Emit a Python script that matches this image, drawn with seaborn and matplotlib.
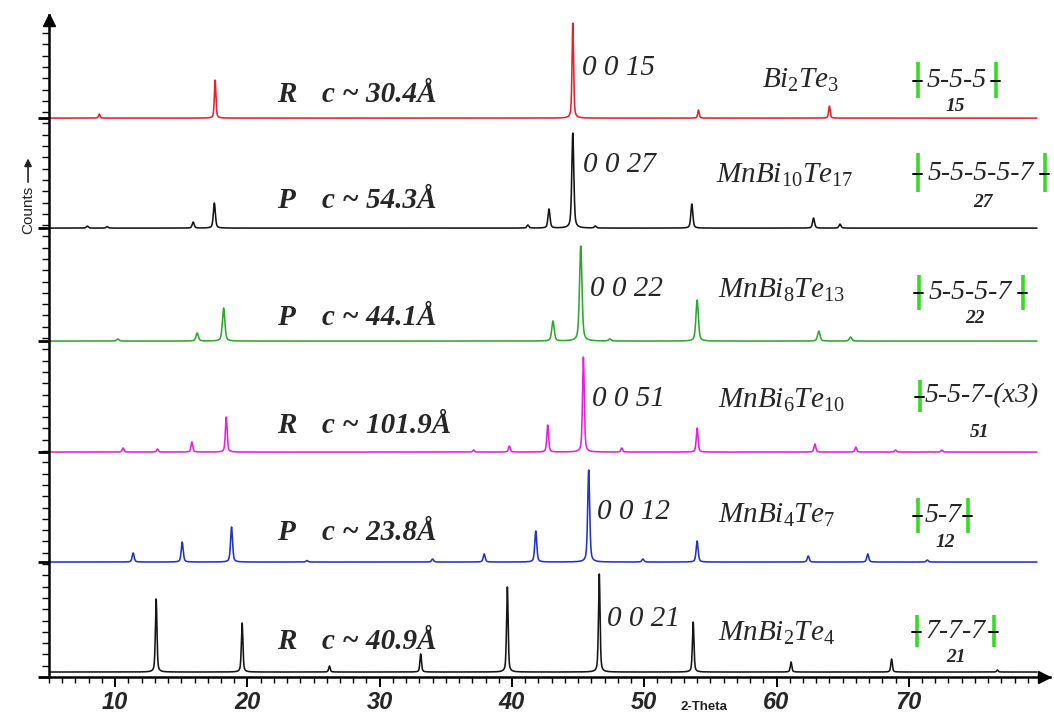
import numpy as np
import pandas as pd
import matplotlib
matplotlib.use("Agg")
import matplotlib.pyplot as plt
import seaborn as sns
from matplotlib.ticker import FixedLocator, NullFormatter

# ---------------- data ----------------
phases = ["Bi2Te3", "MnBi10Te17", "MnBi8Te13", "MnBi6Te10", "MnBi4Te7", "MnBi2Te4"]
phase_labels = [r"$\mathit{Bi_2Te_3}$", r"$\mathit{MnBi_{10}Te_{17}}$", r"$\mathit{MnBi_8Te_{13}}$",
                r"$\mathit{MnBi_6Te_{10}}$", r"$\mathit{MnBi_4Te_7}$", r"$\mathit{MnBi_2Te_4}$"]
colors = ["#e8202a", "#151515", "#2fa82f", "#e51fe5", "#2233c8", "#151515"]
offsets = [559, 449, 336, 225, 115, 5]          # stacking offset of each pattern (a.u.)
widths = [0.07, 0.09, 0.11, 0.08, 0.09, 0.07]   # peak half widths (deg)

peak_pos = [
    [8.8, 17.56, 44.6, 54.1, 64.0],
    [7.9, 9.4, 15.9, 17.5, 41.2, 42.8, 44.6, 46.3, 53.6, 62.8, 64.8],
    [10.2, 16.2, 18.2, 43.1, 45.2, 47.4, 54.0, 63.2, 65.6],
    [10.6, 13.2, 15.8, 18.4, 37.1, 39.8, 42.7, 45.4, 48.3, 54.0, 62.9, 66.0, 69.0, 72.5],
    [11.36, 15.07, 18.8, 24.5, 34.0, 37.9, 41.8, 45.8, 49.9, 54.0, 62.4, 66.9, 71.4],
    [13.1, 19.6, 26.2, 33.1, 39.65, 46.6, 53.7, 61.1, 68.7, 76.7],
]
peak_height = [
    [4, 38, 95, 8, 12],
    [2, 1.5, 6, 25, 3, 19, 95, 2, 24, 10, 4],
    [2, 8, 33, 20, 95, 2, 41, 10, 4],
    [4, 3, 10, 35, 2, 6, 27, 95, 4, 24, 8, 5, 2, 2],
    [9, 20, 35, 1.5, 3, 8, 31, 92, 3, 21, 6, 8, 2],
    [73, 49, 6, 18, 85, 98, 50, 10, 13, 2],
]
space_group = ["R", "P", "P", "R", "P", "R"]
c_axis = ["30.4", "54.3", "44.1", "101.9", "23.8", "40.9"]
hkl = ["0 0 15", "0 0 27", "0 0 22", "0 0 51", "0 0 12", "0 0 21"]
stacking = ["5-5-5", "5-5-5-5-7", "5-5-5-7", "5-5-7-(x3)", "5-7", "7-7-7"]
layers = ["15", "27", "22", "51", "12", "21"]
x_ticks = [10, 20, 30, 40, 50, 60, 70]

# ---------------- build profiles from the peak lists ----------------
tt = np.arange(5.0, 79.7, 0.01)
rows = []
for name, off, w, pos, hts in zip(phases, offsets, widths, peak_pos, peak_height):
    prof = np.zeros_like(tt)
    for p, h in zip(pos, hts):
        d = (tt - p) / w
        prof += h * (0.5 / (1 + d ** 2) + 0.5 * np.exp(-np.log(2) * d ** 2))
    rows.append(pd.DataFrame({"two_theta": tt, "counts": off + prof, "phase": name}))
df = pd.concat(rows, ignore_index=True)

# ---------------- figure ----------------
sns.set_style("ticks")
plt.rcParams["font.family"] = ["Liberation Sans", "DejaVu Sans"]
plt.rcParams["mathtext.fontset"] = "custom"
plt.rcParams["mathtext.it"] = "Liberation Serif:italic"
plt.rcParams["mathtext.rm"] = "Liberation Serif"

fig = plt.figure(figsize=(10.54, 7.14), dpi=100)
ax = fig.add_axes([0.0465, 0.0518, 0.950, 0.927])

sns.lineplot(data=df, x="two_theta", y="counts", hue="phase", hue_order=phases,
             palette=dict(zip(phases, colors)), estimator=None, legend=False,
             linewidth=1.15, ax=ax)

ax.set_xlim(5, 80.7)
ax.set_ylim(0, 662)
ax.set_xlabel("")
ax.set_ylabel("")
for s in ["top", "right"]:
    ax.spines[s].set_visible(False)
for s in ["left", "bottom"]:
    ax.spines[s].set_linewidth(1.8)
    ax.spines[s].set_color("black")

ax.set_xticks(x_ticks)
ax.set_xticklabels([str(t) for t in x_ticks], fontsize=17, fontweight="bold",
                   fontstyle="italic", family="Liberation Sans")
ax.xaxis.set_minor_locator(FixedLocator(np.arange(5, 80, 1)))
ax.set_yticks([0] + offsets[::-1][1:])
ax.set_yticklabels([])
ax.yaxis.set_minor_locator(FixedLocator(np.arange(0, 650, 11.3)))
ax.yaxis.set_minor_formatter(NullFormatter())
ax.tick_params(axis="x", which="major", length=7, width=1.4, pad=3, color="black")
ax.tick_params(axis="x", which="minor", length=4, width=1.0, color="black")
ax.tick_params(axis="y", which="major", length=8, width=2.0, color="black")
ax.tick_params(axis="y", which="minor", length=5, width=1.0, color="black")

# arrow heads on the axes
ax.plot(0, 0.992, marker="^", markersize=9, color="black", transform=ax.transAxes, clip_on=False)
ax.plot(0.994, 0, marker=">", markersize=9, color="black", transform=ax.transAxes, clip_on=False)

# axis titles
fig.text(0.668, 0.010, "2-Theta", ha="center", va="center", fontsize=9.5,
         family="Liberation Sans", fontweight="bold", color="#222222")
fig.text(0.0266, 0.706, "Counts", rotation=90, ha="center", va="center", fontsize=11,
         family="Liberation Sans", color="#222222")
fig.patches.append(matplotlib.patches.FancyArrowPatch(
    (0.0266, 0.741), (0.0266, 0.782), transform=fig.transFigure,
    arrowstyle="-|>", mutation_scale=11, lw=1.2, color="#222222"))

# annotations
serif = "Liberation Serif"
sg_y = [583, 477, 360, 252, 145, 36]
hkl_xy = [(45.33, 609), (45.40, 512), (45.93, 388), (46.08, 278), (46.46, 165), (47.22, 58)]
phase_xy = [(58.94, 597), (55.39, 502), (55.61, 387), (55.61, 277), (55.61, 162), (55.61, 44)]
bars_x = [(70.67, 76.57), (70.67, 80.27), (70.74, 78.61), (70.82, None), (70.67, 74.45), (70.59, 76.41)]
bars_y = [(579, 615), (485, 524), (367, 402), (265, 297), (144, 179), (30, 62)]
stack_y = [597, 504, 385, 281, 162, 46]
layer_xy = [(73.54, 571), (75.58, 475), (74.98, 359), (75.36, 245), (72.78, 135), (73.54, 20)]

for i in range(6):
    ax.text(22.25, sg_y[i], space_group[i], ha="left", va="center", family=serif,
            fontsize=21, fontweight="bold", fontstyle="italic")
    ax.text(25.66, sg_y[i], "c ~ " + c_axis[i] + "Å", ha="left", va="center",
            family=serif, fontsize=21, fontweight="bold", fontstyle="italic")
    ax.text(hkl_xy[i][0], hkl_xy[i][1], hkl[i], ha="left", va="center", family=serif,
            fontsize=21, fontstyle="italic")
    ax.text(phase_xy[i][0], phase_xy[i][1], phase_labels[i], ha="left", va="center",
            fontsize=21)
    xl, xr = bars_x[i]
    yb, yt = bars_y[i]
    ym = stack_y[i]
    for xb in [xl, xr]:
        if xb is None:
            continue
        ax.plot([xb, xb], [yb, yt], color="#33dd22", lw=2.6, solid_capstyle="butt", clip_on=False)
        ax.plot([xb - 0.35, xb + 0.35], [ym - 1, ym - 1], color="black", lw=1.4, clip_on=False)
    if xr is None:
        ax.text(xl + 0.35, ym, stacking[i], ha="left", va="center", family=serif,
                fontsize=20, fontstyle="italic", clip_on=False)
    else:
        ax.text((xl + xr) / 2, ym, stacking[i], ha="center", va="center", family=serif,
                fontsize=20, fontstyle="italic", clip_on=False)
    ax.text(layer_xy[i][0], layer_xy[i][1], layers[i], ha="center", va="center",
            family=serif, fontsize=14, fontweight="bold", fontstyle="italic")

fig.savefig("out.png", dpi=100)
